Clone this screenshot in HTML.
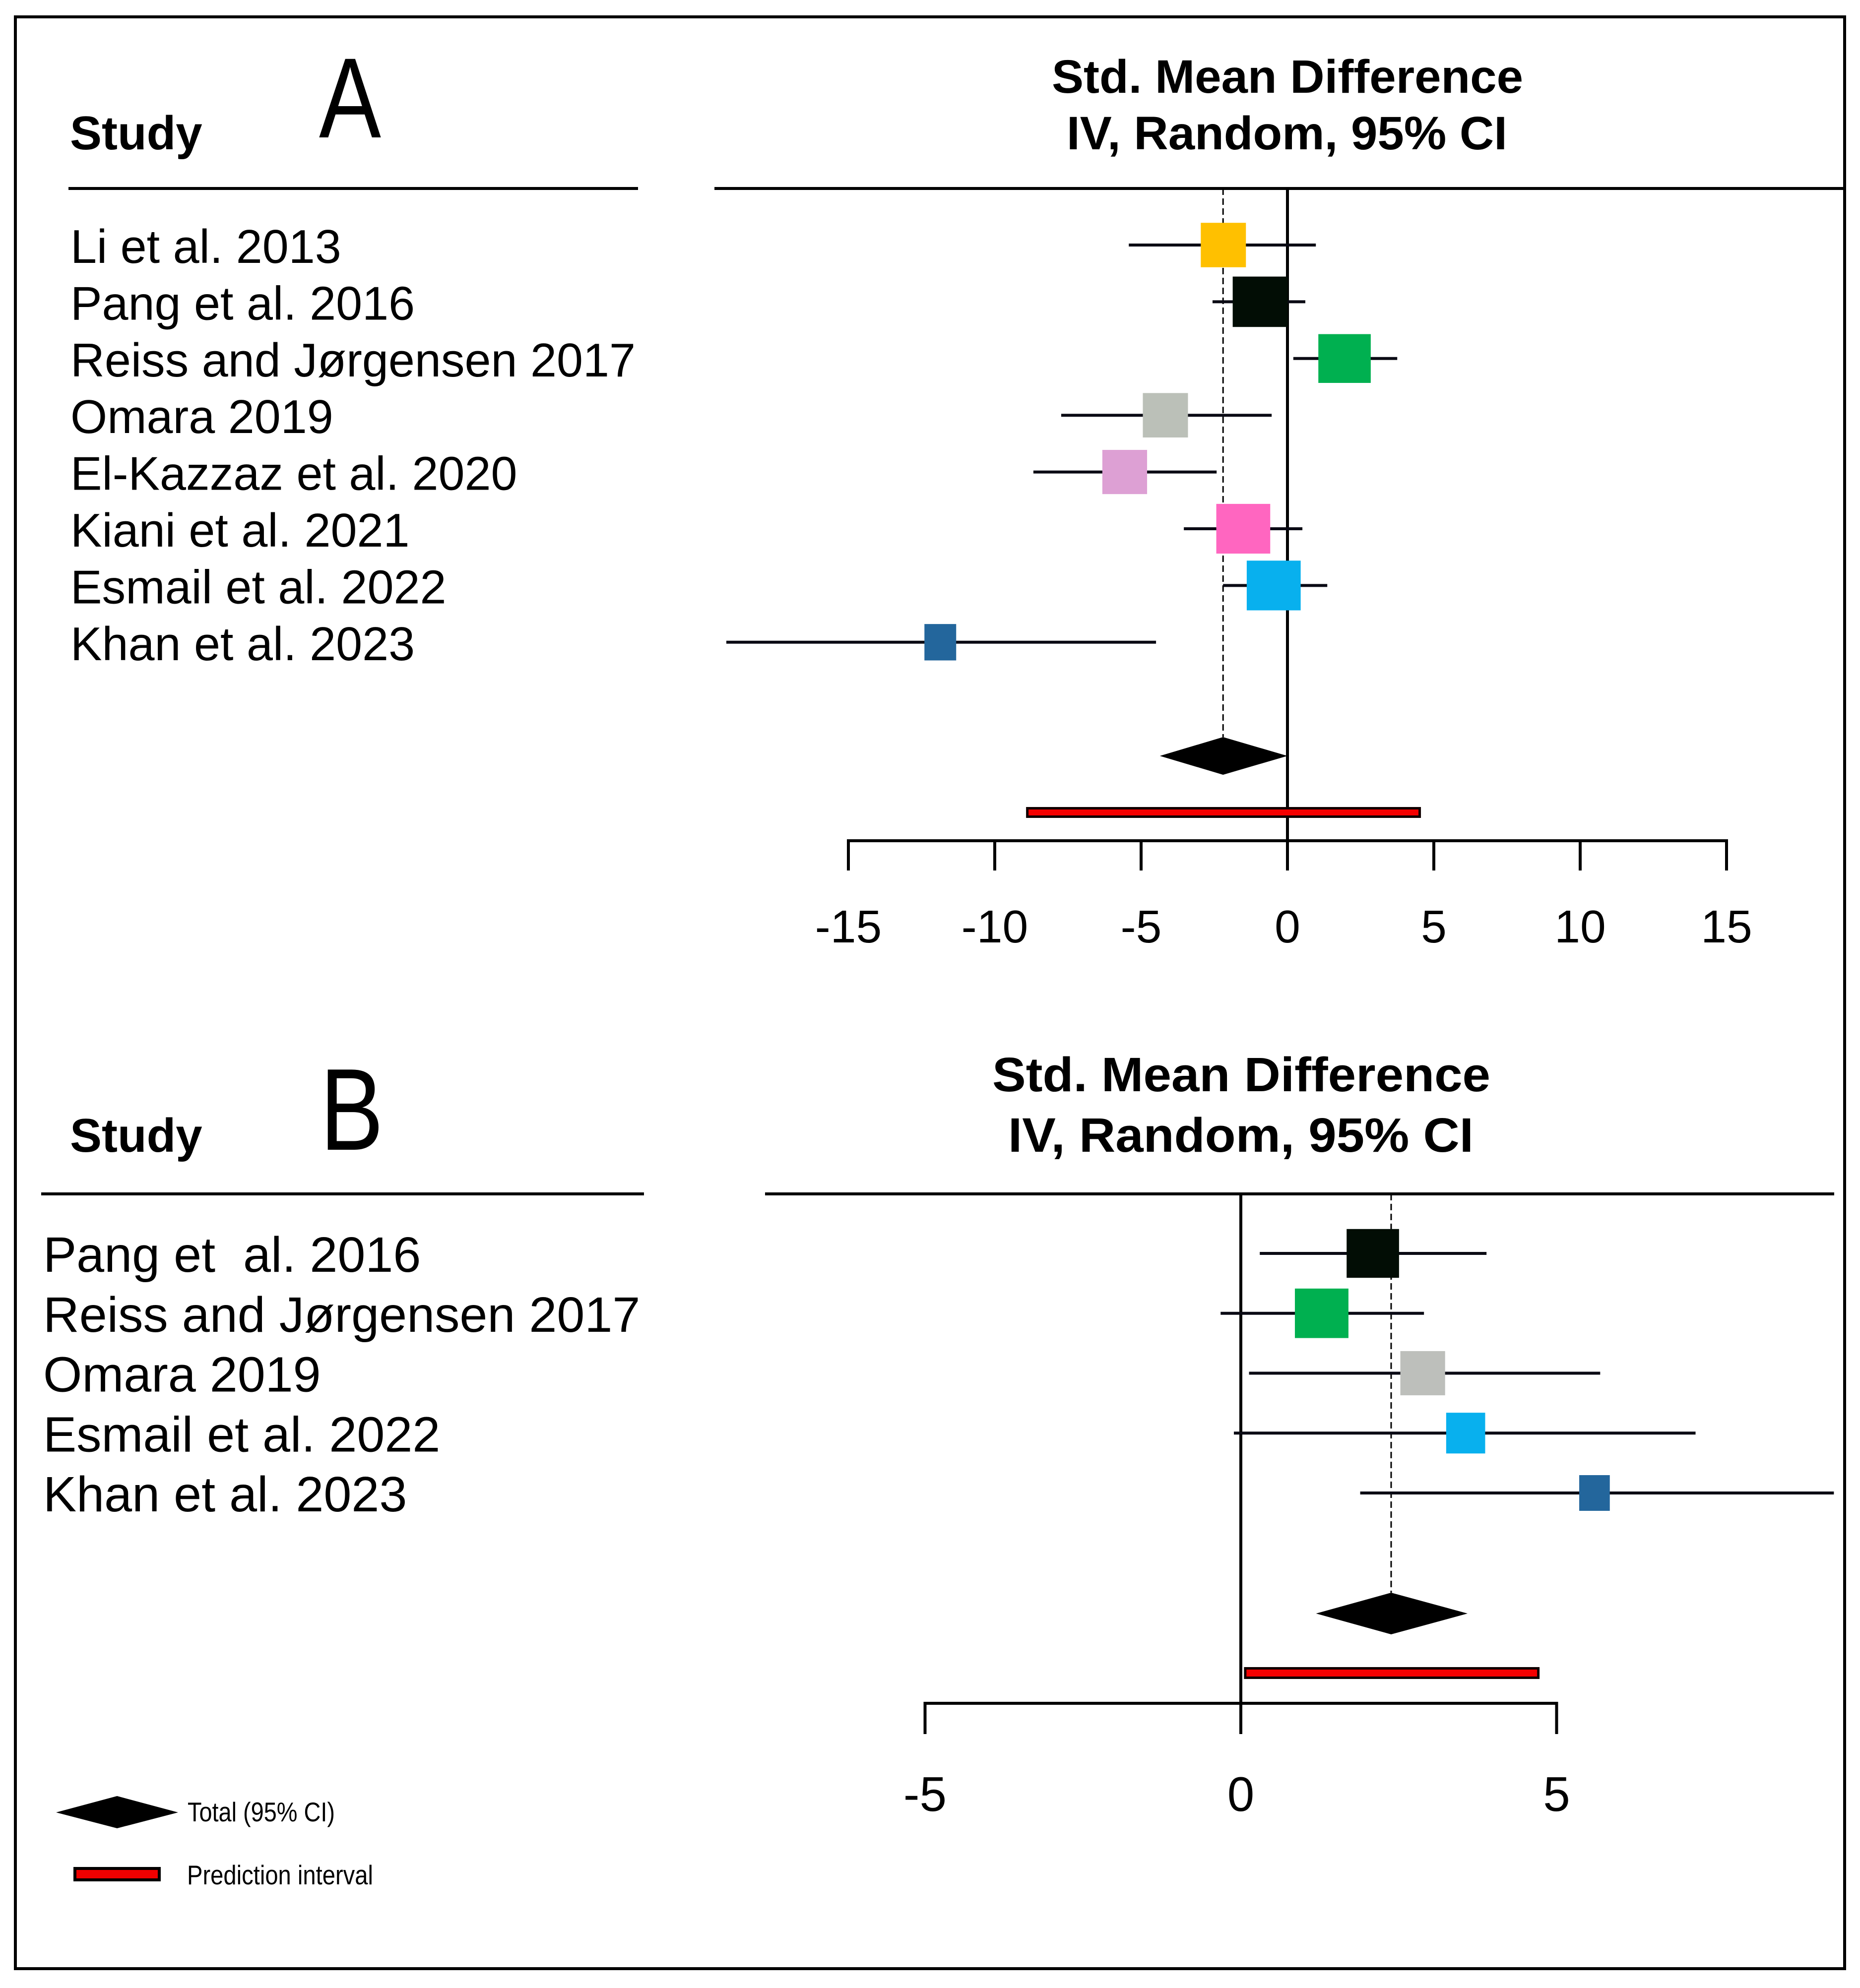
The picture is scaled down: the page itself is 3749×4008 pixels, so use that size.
<!DOCTYPE html>
<html lang="en">
<head>
<meta charset="utf-8">
<title>Forest plots of standardized mean difference</title>
<style>
  html, body { margin: 0; padding: 0; background: #fff; }
  svg { display: block; }
  text { font-family: "Liberation Sans", Arial, sans-serif; fill: #000; }
  .bold { font-weight: 700; }
</style>
</head>
<body>
<svg id="figure" xmlns="http://www.w3.org/2000/svg" width="3749" height="4008" viewBox="0 0 3749 4008">
  <rect x="0" y="0" width="3749" height="4008" fill="#ffffff"/>
  <rect x="31" y="34" width="3687" height="3935" fill="none" stroke="#000" stroke-width="6"/>

  <text x="643" y="277" font-size="230" textLength="125" lengthAdjust="spacingAndGlyphs">A</text>
  <text class="bold" x="141" y="301" font-size="96">Study</text>
  <text class="bold" x="2120" y="187" font-size="95" textLength="950" lengthAdjust="spacingAndGlyphs">Std. Mean Difference</text>
  <text class="bold" x="2150" y="301" font-size="95" textLength="888" lengthAdjust="spacingAndGlyphs">IV, Random, 95% CI</text>
  <line x1="138" y1="380" x2="1286" y2="380" stroke="#000" stroke-width="6"/>
  <line x1="1440" y1="380" x2="3718" y2="380" stroke="#000" stroke-width="6"/>

  <text x="645" y="2318" font-size="235" textLength="128" lengthAdjust="spacingAndGlyphs">B</text>
  <text class="bold" x="141" y="2322" font-size="96">Study</text>
  <text class="bold" x="2000" y="2200" font-size="97" textLength="1004" lengthAdjust="spacingAndGlyphs">Std. Mean Difference</text>
  <text class="bold" x="2032" y="2322" font-size="97" textLength="938" lengthAdjust="spacingAndGlyphs">IV, Random, 95% CI</text>
  <line x1="83" y1="2407" x2="1298" y2="2407" stroke="#000" stroke-width="6"/>
  <line x1="1542" y1="2407" x2="3697" y2="2407" stroke="#000" stroke-width="6"/>

  <g id="panel-a"></g>
  <g id="panel-b"></g>

  <g>
    <polygon points="113,3654 236,3621 359,3654 236,3686" fill="#000"/>
    <text x="378" y="3672" font-size="55" textLength="297" lengthAdjust="spacingAndGlyphs">Total (95% CI)</text>
    <rect x="151" y="3767" width="170" height="23" fill="#f00000" stroke="#000" stroke-width="6"/>
    <text x="377" y="3799" font-size="55" textLength="375" lengthAdjust="spacingAndGlyphs">Prediction interval</text>
  </g>
</svg>

<script>
// Panel A data
const aStudies = ["Li et al. 2013", "Pang et al. 2016", "Reiss and Jørgensen 2017", "Omara 2019", "El-Kazzaz et al. 2020", "Kiani et al. 2021", "Esmail et al. 2022", "Khan et al. 2023"];
const aEffects = [-2.19, -0.93, 1.95, -4.17, -5.56, -1.51, -0.47, -11.86];
const aLower = [-5.42, -2.56, 0.2, -7.73, -8.68, -3.54, -2.2, -19.17];
const aUpper = [0.97, 0.61, 3.75, -0.54, -2.42, 0.51, 1.36, -4.49];
const aWeights = [11.8, 14.4, 13.7, 11.8, 11.7, 14.1, 14.1, 8.3];
const aColors = ["#FFC000", "#020D05", "#00B050", "#BBC0B8", "#DDA0D4", "#FF66C0", "#08B0EE", "#23669C"];
const aPooled = [-4.36, -2.2, 0];
const aPrediction = [-8.93, 4.56];
const aTicks = [-15, -10, -5, 0, 5, 10, 15];

// Panel B data
const bStudies = ["Pang et  al. 2016", "Reiss and Jørgensen 2017", "Omara 2019", "Esmail et al. 2022", "Khan et al. 2023"];
const bEffects = [2.09, 1.28, 2.88, 3.56, 5.6];
const bLower = [0.3, -0.32, 0.13, -0.11, 1.89];
const bUpper = [3.89, 2.9, 5.69, 7.2, 9.39];
const bWeights = [13.7, 14.0, 11.7, 10.2, 8.0];
const bColors = ["#020D05", "#00B050", "#BDBFBB", "#08B0EE", "#23669C"];
const bPooled = [1.19, 2.38, 3.59];
const bPrediction = [0.05, 4.73];
const bTicks = [-5, 0, 5];

const SVG_NS = "http://www.w3.org/2000/svg";

function make(parent, tag, attrs) {
  const node = document.createElementNS(SVG_NS, tag);
  for (const key in attrs) node.setAttribute(key, attrs[key]);
  parent.appendChild(node);
  return node;
}

function drawForest(root, d, g) {
  const xScale = function (v) { return g.zeroX + g.unit * v; };
  const yScale = function (i) { return g.firstRow + g.rowStep * i; };
  let el;

  // Reference lines sit behind the marks
  el = make(root, "line", { x1: xScale(0), y1: g.ruleY, x2: xScale(0), y2: g.axisY, stroke: "#000", "stroke-width": 6 });
  
  

  el = make(root, "line", { x1: xScale(d.pooled[1]), y1: g.ruleY, x2: xScale(d.pooled[1]), y2: g.diamondY - g.diamondH, stroke: "#000", "stroke-width": 3, "stroke-dasharray": "13 7" });
  
  

  d.studies.forEach(function (name, i) {
    const y = yScale(i);

    const label = make(root, "text", { x: g.labelX, y: y + g.labelDy, "font-size": g.labelSize });
    label.setAttribute('xml:space', 'preserve');
    label.style.whiteSpace = "pre";
    label.textContent = name;
    
    

    const ci = make(root, "line", { x1: xScale(d.lower[i]), y1: y, x2: xScale(d.upper[i]), y2: y, stroke: "#0a0a14", "stroke-width": 6 });
    
    

    const w = d.weights[i] * 7.71;
    const h = w * 0.6 + 35;
    const box = make(root, "rect", { x: xScale(d.effects[i]) - w / 2, y: y - h / 2, width: w, height: h, fill: d.colors[i] });
    
    
  });

  const lo = xScale(d.pooled[0]), mid = xScale(d.pooled[1]), hi = xScale(d.pooled[2]);
  el = make(root, "polygon", {
    points: lo + "," + g.diamondY + " " + mid + "," + (g.diamondY - g.diamondH) + " " + hi + "," + g.diamondY + " " + mid + "," + (g.diamondY + g.diamondH),
    fill: "#000"
  });
  
  

  el = make(root, "rect", {
    x: xScale(d.prediction[0]) + 2.5, y: g.predY + 2.5,
    width: xScale(d.prediction[1]) - xScale(d.prediction[0]) - 5, height: g.predH - 5,
    fill: "#F50000", stroke: "#100000", "stroke-width": 5
  });
  
  

  const first = d.ticks[0], last = d.ticks[d.ticks.length - 1];
  el = make(root, "line", { x1: xScale(first) - 3, y1: g.axisY, x2: xScale(last) + 3, y2: g.axisY, stroke: "#000", "stroke-width": 6 });
  
  

  d.ticks.forEach(function (t) {
    const tick = make(root, "line", { x1: xScale(t), y1: g.axisY, x2: xScale(t), y2: g.axisY + g.tickLen, stroke: "#000", "stroke-width": 6 });
    
    

    const text = make(root, "text", { x: xScale(t), y: g.tickLabelY, "font-size": g.tickSize, "text-anchor": "middle" });
    text.textContent = String(t);
    
    
  });
}

drawForest(document.getElementById("panel-a"),
  { studies: aStudies, effects: aEffects, lower: aLower, upper: aUpper, weights: aWeights, colors: aColors, pooled: aPooled, prediction: aPrediction, ticks: aTicks },
  { zeroX: 2595, unit: 59, firstRow: 494, rowStep: 114.4, ruleY: 380, axisY: 1695, tickLen: 60, tickLabelY: 1900, tickSize: 93, labelX: 142, labelDy: 36, labelSize: 95.3, diamondY: 1524, diamondH: 38, predY: 1627, predH: 22 });

drawForest(document.getElementById("panel-b"),
  { studies: bStudies, effects: bEffects, lower: bLower, upper: bUpper, weights: bWeights, colors: bColors, pooled: bPooled, prediction: bPrediction, ticks: bTicks },
  { zeroX: 2501, unit: 127.3, firstRow: 2527, rowStep: 120.75, ruleY: 2407, axisY: 3434, tickLen: 62, tickLabelY: 3651, tickSize: 98, labelX: 87, labelDy: 37, labelSize: 100.7, diamondY: 3253, diamondH: 42, predY: 3361, predH: 24 });
</script>
</body>
</html>
